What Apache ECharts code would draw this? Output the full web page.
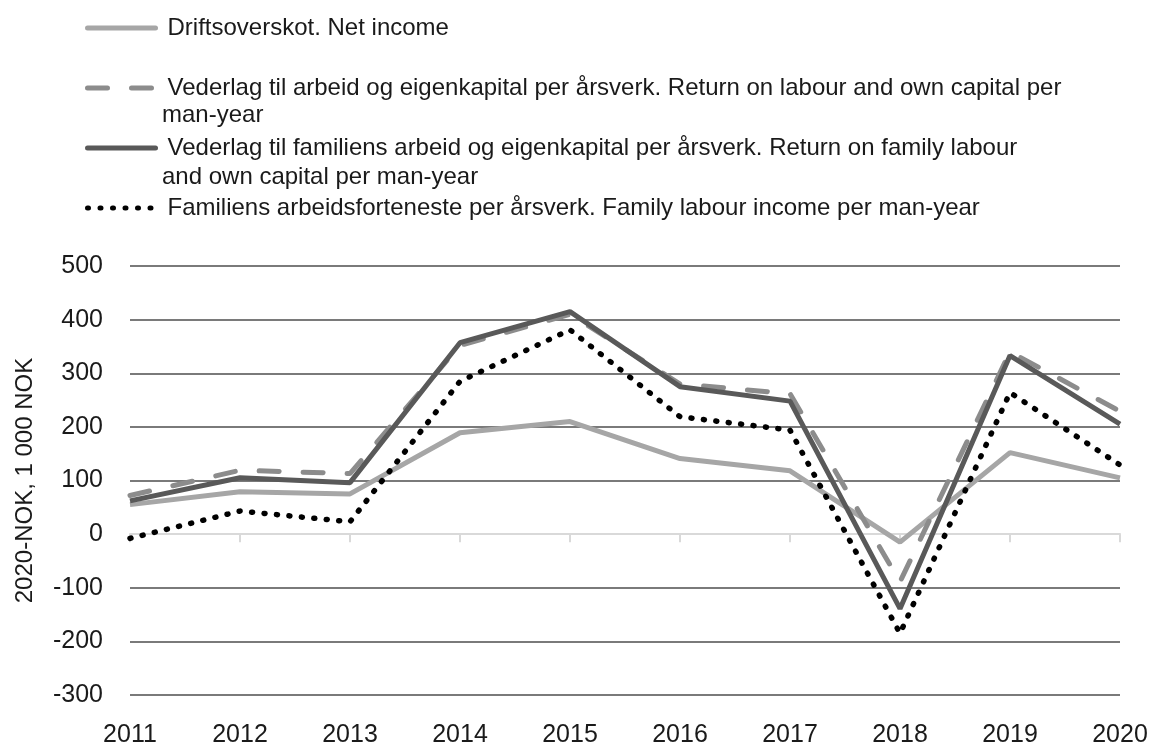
<!DOCTYPE html>
<html>
<head>
<meta charset="utf-8">
<script src="https://cdn.jsdelivr.net/npm/echarts@6/dist/echarts.min.js"></script>
<style>
html,body{margin:0;padding:0;background:#fff;}
#chart{width:1153px;height:745px;}
</style>
</head>
<body>
<div id="chart"></div>
<script>
// ---- data ----
const years = ['2011','2012','2013','2014','2015','2016','2017','2018','2019','2020'];
const netIncome = [55, 79, 75, 189, 210, 141, 118, -15, 152, 105];
const returnLabourCapital = [72, 119, 113, 352, 410, 280, 262, -89, 340, 229];
const returnFamilyLabourCapital = [62, 105, 96, 357, 415, 275, 248, -139, 333, 205];
const familyLabourIncome = [-8, 43, 23, 285, 381, 219, 194, -185, 264, 129];

const seriesNames = [
  'Driftsoverskot. Net income',
  'Vederlag til arbeid og eigenkapital per årsverk. Return on labour and own capital per man-year',
  'Vederlag til familiens arbeid og eigenkapital per årsverk. Return on family labour and own capital per man-year',
  'Familiens arbeidsforteneste per årsverk. Family labour income per man-year'
];
const legendFirstLines = [
  'Driftsoverskot. Net income',
  'Vederlag til arbeid og eigenkapital per årsverk. Return on labour and own capital per',
  'Vederlag til familiens arbeid og eigenkapital per årsverk. Return on family labour',
  'Familiens arbeidsforteneste per årsverk. Family labour income per man-year'
];
const legendSecondLines = ['', 'man-year', 'and own capital per man-year', ''];
const yAxisName = '2020-NOK, 1 000 NOK';

const FONT = 'Liberation Sans';
const TEXT = '#1a1a1a';

const chart = echarts.init(document.getElementById('chart'), null, {renderer: 'canvas'});

const legendTops = [26, 86, 146, 206];
const legends = seriesNames.map((n, i) => ({
  data: [n],
  left: 85,
  top: legendTops[i] - 10,
  padding: 0,
  itemWidth: 68,
  itemHeight: 20,
  itemStyle: {opacity: 0},
  lineStyle: {width: 5, type: 'inherit', cap: 'round'},
  selectedMode: false,
  textStyle: {fontFamily: FONT, fontSize: 24, color: TEXT, padding: [0, 0, 0, 7]},
  formatter: () => legendFirstLines[i]
}));

const splitColors = [];
for (let v = -300; v <= 500; v += 100) splitColors.push(v === 0 ? 'rgba(0,0,0,0)' : '#7a7a7a');

const option = {
  backgroundColor: '#fff',
  animation: false,
  legend: legends,
  graphic: [
    {type: 'text', left: 162, top: 115 - 12, style: {text: legendSecondLines[1], font: '24px "' + FONT + '"', fill: TEXT}},
    {type: 'text', left: 162, top: 177 - 12, style: {text: legendSecondLines[2], font: '24px "' + FONT + '"', fill: TEXT}}
  ],
  grid: {left: 130, right: 33, top: 266, bottom: 50, containLabel: false, outerBoundsMode: 'none'},
  xAxis: [
    {
      type: 'category', data: years, boundaryGap: false, position: 'bottom',
      axisLine: {show: false, onZero: false},
      axisTick: {show: false},
      splitLine: {show: false},
      axisLabel: {fontFamily: FONT, fontSize: 25, color: TEXT, margin: 28}
    },
    {
      type: 'category', data: years, boundaryGap: false, position: 'top',
      axisLine: {show: true, onZero: true, lineStyle: {color: '#d9d9d9', width: 2}},
      axisTick: {show: true, inside: true, length: 8, lineStyle: {color: '#d9d9d9', width: 2}},
      axisLabel: {show: false},
      splitLine: {show: false}
    }
  ],
  yAxis: {
    type: 'value', min: -300, max: 500, interval: 100,
    axisLine: {show: false}, axisTick: {show: false},
    axisLabel: {fontFamily: FONT, fontSize: 25, color: TEXT, margin: 27},
    splitLine: {show: true, lineStyle: {color: splitColors, width: 2}},
    name: yAxisName, nameLocation: 'middle', nameGap: 93,
    nameTextStyle: {fontFamily: FONT, fontSize: 24, color: TEXT}
  },
  series: [
    {name: seriesNames[0], type: 'line', data: netIncome, symbol: 'none',
     lineStyle: {color: '#a6a6a6', width: 5}, itemStyle: {color: '#a6a6a6'}},
    {name: seriesNames[1], type: 'line', data: returnLabourCapital, symbol: 'none',
     lineStyle: {color: '#8c8c8c', width: 5, type: [20, 24], cap: 'round'}, itemStyle: {color: '#8c8c8c'}},
    {name: seriesNames[2], type: 'line', data: returnFamilyLabourCapital, symbol: 'none',
     lineStyle: {color: '#595959', width: 5}, itemStyle: {color: '#595959'}},
    {name: seriesNames[3], type: 'line', data: familyLabourIncome, symbol: 'none',
     lineStyle: {color: '#000000', width: 5.5, type: [1, 11.5], cap: 'round'}, itemStyle: {color: '#000000'}}
  ]
};
chart.setOption(option);
</script>
</body>
</html>
